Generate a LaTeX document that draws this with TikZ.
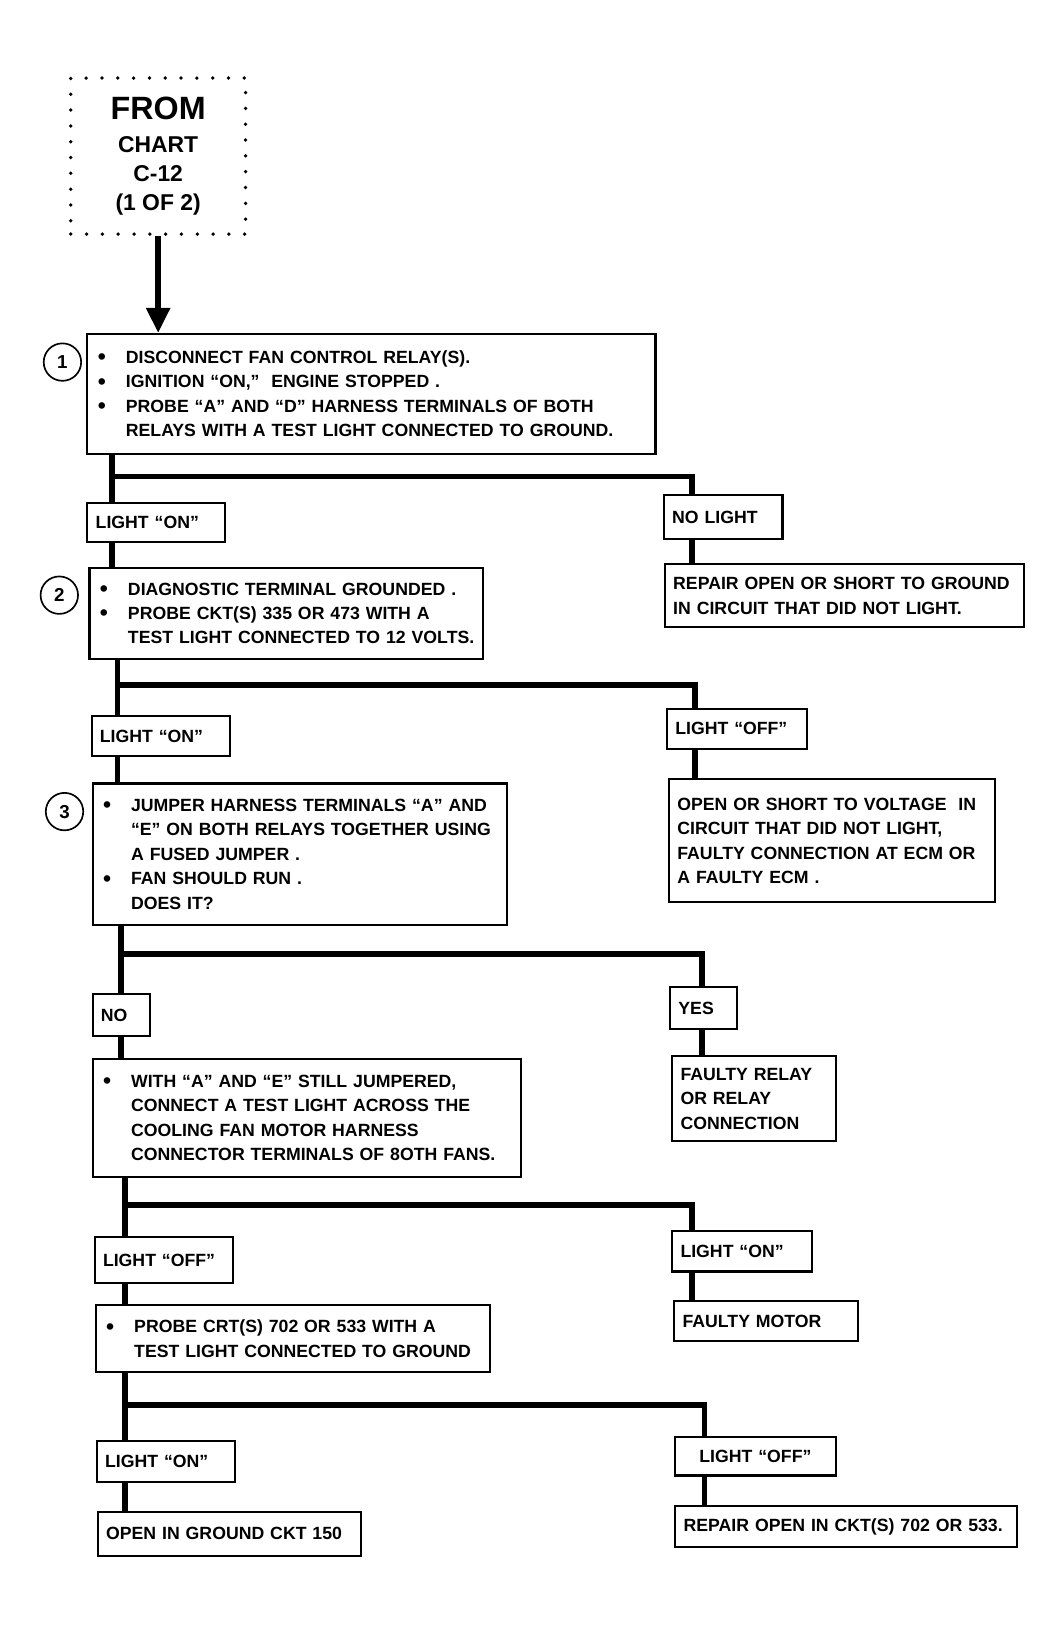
\documentclass[tikz,border=0pt]{standalone}
\usepackage{fontspec}
\setmainfont{Liberation Sans}
\usetikzlibrary{arrows.meta}

\tikzset{
  box/.style={draw, line width=1pt, anchor=north west, inner xsep=4pt, inner ysep=0pt,
    align=left, font=\bfseries\fontsize{8.5}{11.75}\selectfont},
  conn/.style={line width=2.8pt},
  num/.style={draw, circle, line width=0.8pt, minimum size=18pt, inner sep=0pt,
    font=\bfseries\fontsize{9}{9}\selectfont},
  frombox/.style={draw, line width=1.8pt, line cap=round, dash pattern=on 0pt off 7.6pt,
    minimum width=84pt, minimum height=75pt, align=center,
    font=\bfseries\fontsize{11}{14}\selectfont},
}
\newcommand{\bul}{\hspace*{1pt}\makebox[13.5pt][l]{\raisebox{-0.7pt}{\fontsize{11}{11}\selectfont\textbullet}}}
\newcommand{\ind}{\hspace*{14.5pt}}

\begin{document}
\begin{tikzpicture}[x=0.5pt, y=-0.5pt]
  \useasboundingbox (0,0) rectangle (1020,1567.5);

  %%%%%%%%%%%%%%%%%%%%%%%%%%%%%%
  % Entry from the other chart %
  %%%%%%%%%%%%%%%%%%%%%%%%%%%%%%
  \node[frombox] (from) at (152,150)
        {{\fontsize{15.5}{17}\selectfont FROM}\\[2pt] CHART\\ C-12\\ (1 OF 2)};

  %%%%%%%%%%%%%%%%%%%%%%%%%%%%%%
  % Step 1                     %
  %%%%%%%%%%%%%%%%%%%%%%%%%%%%%%
  \node[box, text width=265pt, minimum height=57.5pt] (b1) at (83,320)
        {\bul DISCONNECT FAN CONTROL RELAY(S).\\
         \bul IGNITION ``ON,''\ \ ENGINE STOPPED .\\
         \bul PROBE ``A'' AND ``D'' HARNESS TERMINALS OF BOTH\\
         \ind RELAYS WITH A TEST LIGHT CONNECTED TO GROUND.};
  \node[num] (n1) at (60,348) {1};
  \draw[conn, -{Triangle[length=12pt, width=11pt]}] (from.south) -- (from.south |- b1.north);

  \node[box, text width=58pt, minimum height=19pt] (lon1) at (83,482) {LIGHT ``ON''};
  \node[box, text width=49pt, minimum height=21pt] (nolt) at (637,475) {NO LIGHT};
  \node[box, text width=164.5pt, minimum height=30.5pt] (rep1) at (638,541)
        {REPAIR OPEN OR SHORT TO GROUND\\ IN CIRCUIT THAT DID NOT LIGHT.};

  \coordinate (s1) at (108,458);
  \coordinate (t1) at (665,458);
  \draw[conn] (b1.south -| s1) -- (lon1.north -| s1);
  \draw[conn] (s1) -- (t1) -- (t1 |- nolt.north);
  \draw[conn] (nolt.south -| t1) -- (rep1.north -| t1);

  %%%%%%%%%%%%%%%%%%%%%%%%%%%%%%
  % Step 2                     %
  %%%%%%%%%%%%%%%%%%%%%%%%%%%%%%
  \node[box, text width=181pt, minimum height=43.5pt] (b2) at (85,545)
        {\bul DIAGNOSTIC TERMINAL GROUNDED .\\
         \bul PROBE CKT(S) 335 OR 473 WITH A\\
         \ind TEST LIGHT CONNECTED TO 12 VOLTS.};
  \node[num] (n2) at (57,572) {2};
  \draw[conn] (lon1.south -| s1) -- (b2.north -| s1);

  \node[box, text width=58.5pt, minimum height=19.5pt] (lon2) at (87,687) {LIGHT ``ON''};
  \node[box, text width=59.5pt, minimum height=19.5pt] (loff2) at (640,680) {LIGHT ``OFF''};
  \node[box, text width=148.5pt, minimum height=59pt] (open) at (642,748)
        {OPEN OR SHORT TO VOLTAGE\ \ IN\\ CIRCUIT THAT DID NOT LIGHT,\\
         FAULTY CONNECTION AT ECM OR\\ A FAULTY ECM .};

  \coordinate (s2) at (113,658);
  \coordinate (t2) at (668,658);
  \draw[conn] (b2.south -| s2) -- (lon2.north -| s2);
  \draw[conn] (s2) -- (t2) -- (t2 |- loff2.north);
  \draw[conn] (loff2.south -| t2) -- (open.north -| t2);

  %%%%%%%%%%%%%%%%%%%%%%%%%%%%%%
  % Step 3                     %
  %%%%%%%%%%%%%%%%%%%%%%%%%%%%%%
  \node[box, text width=191pt, minimum height=68pt] (b3) at (88,752)
        {\bul JUMPER HARNESS TERMINALS ``A'' AND\\
         \ind ``E'' ON BOTH RELAYS TOGETHER USING\\
         \ind A FUSED JUMPER .\\
         \bul FAN SHOULD RUN .\\
         \ind DOES IT?};
  \node[num] (n3) at (62,780) {3};
  \draw[conn] (lon2.south -| s2) -- (b3.north -| s2);

  \node[box, text width=19.5pt, minimum height=20.5pt] (no) at (88,954) {NO};
  \node[box, text width=24pt, minimum height=20pt] (yes) at (643,948) {YES};
  \node[box, text width=70.5pt, minimum height=41pt] (relay) at (645,1014)
        {FAULTY RELAY\\ OR RELAY\\ CONNECTION};

  \coordinate (s3) at (116,917);
  \coordinate (t3) at (675,917);
  \draw[conn] (b3.south -| s3) -- (no.north -| s3);
  \draw[conn] (s3) -- (t3) -- (t3 |- yes.north);
  \draw[conn] (yes.south -| t3) -- (relay.north -| t3);

  %%%%%%%%%%%%%%%%%%%%%%%%%%%%%%
  % Fan motor check            %
  %%%%%%%%%%%%%%%%%%%%%%%%%%%%%%
  \node[box, text width=198pt, minimum height=56.5pt] (b4) at (88,1017)
        {\bul WITH ``A'' AND ``E'' STILL JUMPERED,\\
         \ind CONNECT A TEST LIGHT ACROSS THE\\
         \ind COOLING FAN MOTOR HARNESS\\
         \ind CONNECTOR TERMINALS OF 8OTH FANS.};
  \draw[conn] (no.south -| s3) -- (b4.north -| s3);

  \node[box, text width=58.5pt, minimum height=22pt] (loff4) at (90,1188) {LIGHT ``OFF''};
  \node[box, text width=59pt, minimum height=19.5pt] (lon4) at (645,1182) {LIGHT ``ON''};
  \node[box, text width=80.5pt, minimum height=19.5pt] (motor) at (647,1249) {FAULTY MOTOR};

  \coordinate (s4) at (120,1158);
  \coordinate (t4) at (665,1158);
  \draw[conn] (b4.south -| s4) -- (loff4.north -| s4);
  \draw[conn] (s4) -- (t4) -- (t4 |- lon4.north);
  \draw[conn] (lon4.south -| t4) -- (motor.north -| t4);

  %%%%%%%%%%%%%%%%%%%%%%%%%%%%%%
  % Circuit probe              %
  %%%%%%%%%%%%%%%%%%%%%%%%%%%%%%
  \node[box, text width=181.5pt, minimum height=32.5pt] (b5) at (91,1253)
        {\bul PROBE CRT(S) 702 OR 533 WITH A\\
         \ind TEST LIGHT CONNECTED TO GROUND};
  \draw[conn] (loff4.south -| s4) -- (b5.north -| s4);

  \node[box, text width=58.5pt, minimum height=19.5pt] (lon5) at (92,1384) {LIGHT ``ON''};
  \node[box, text width=69pt, minimum height=18.5pt, align=center] (loff5) at (648,1380) {LIGHT ``OFF''};
  \node[box, text width=118.5pt, minimum height=21pt] (gnd) at (93,1452) {OPEN IN GROUND CKT 150};
  \node[box, text width=156pt, minimum height=20pt] (ckt) at (648,1446) {REPAIR OPEN IN CKT(S) 702 OR 533.};

  \coordinate (s5) at (120,1350);
  \coordinate (t5) at (677,1350);
  \draw[conn] (b5.south -| s5) -- (lon5.north -| s5);
  \draw[conn] (s5) -- (t5) -- (t5 |- loff5.north);
  \draw[conn] (lon5.south -| s5) -- (gnd.north -| s5);
  \draw[conn] (loff5.south -| t5) -- (ckt.north -| t5);

\end{tikzpicture}
\end{document}
